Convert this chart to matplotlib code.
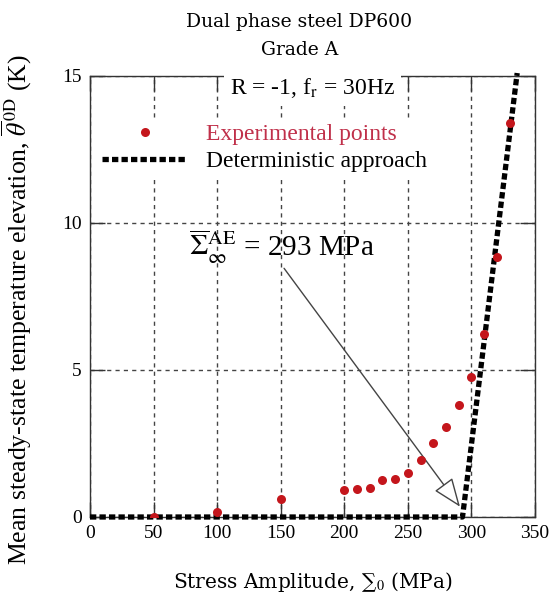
import matplotlib
matplotlib.use("Agg")
import matplotlib.pyplot as plt

plt.rcParams['font.family'] = ['Liberation Serif', 'DejaVu Serif']
plt.rcParams['mathtext.fontset'] = 'stix'

# measured mean temperature elevation vs stress amplitude
stress = [50, 100, 150, 200, 210, 220, 230, 240, 250, 260, 270, 280, 290,
          300, 310, 320, 330]
theta = [0.0, 0.17, 0.61, 0.91, 0.95, 1.0, 1.25, 1.28, 1.51, 1.93, 2.5,
         3.06, 3.8, 4.75, 6.24, 8.83, 13.4]

# deterministic model: zero below the endurance limit, then linear rise
det_stress = [0, 293, 336]
det_theta = [0, 0, 15.1]

xticks = [0, 50, 100, 150, 200, 250, 300, 350]
yticks = [0, 5, 10, 15]

red = '#c4161c'

fig = plt.figure(figsize=(5.5, 6.02), dpi=100)
ax = fig.add_axes([0.1636, 0.1412, 0.8091, 0.7326])

ax.plot(stress, theta, 'o', color=red, ms=6.5, mec='none', zorder=4,
        label='Experimental points')
ax.plot(det_stress, det_theta, color='black', lw=3.8,
        linestyle=(0, (1.2, 0.6)), zorder=3, clip_on=False,
        label='Deterministic approach')

ax.set_xlim(0, 350)
ax.set_ylim(0, 15)
ax.set_xticks(xticks)
ax.set_yticks(yticks)
ax.tick_params(direction='in', length=11, width=1, top=True, right=True,
               labelsize=14, pad=6, color='#333333')
for s in ax.spines.values():
    s.set_linewidth(1)
    s.set_color('#333333')
ax.grid(True, linestyle=(0, (3, 3)), color='#444444', lw=1)
ax.set_axisbelow(True)

leg = ax.legend(loc='upper left', bbox_to_anchor=(-0.01, 0.93), fontsize=17,
                frameon=True, framealpha=1, edgecolor='none',
                handlelength=3.6, handletextpad=0.8, borderpad=0.2,
                labelspacing=0.25, markerscale=1.0)
leg.get_frame().set_facecolor('white')
leg.get_texts()[0].set_color('#c0304a')

ax.text(0.5, 1.0, r'R = -1, f$_{\mathrm{r}}$ = 30Hz', transform=ax.transAxes,
        ha='center', va='top', fontsize=17,
        bbox=dict(facecolor='white', edgecolor='none', pad=4), zorder=5)

ax.annotate(r'$\overline{\Sigma}_{\infty}^{\mathrm{AE}}$ = 293 MPa',
            xy=(291, 0.35), xytext=(78, 9.2), fontsize=21,
            ha='left', va='center',
            arrowprops=dict(arrowstyle='-|>,head_length=0.9,head_width=0.35',
                            mutation_scale=20, fc='white', ec='#444444',
                            lw=1, shrinkA=0, shrinkB=0,
                            relpos=(0.5, 0.0)))

fig.text(0.544, 0.964, 'Dual phase steel DP600', ha='center', va='center',
         fontsize=13.5, family='DejaVu Serif')
fig.text(0.544, 0.917, 'Grade A', ha='center', va='center',
         fontsize=13.5, family='DejaVu Serif')

ax.set_xlabel(r'Stress Amplitude, ∑$_0$ (MPa)', fontsize=14.5,
              family='DejaVu Serif', labelpad=20)
ax.set_ylabel(r'Mean steady-state temperature elevation, $\overline{\theta}^{\,0\mathrm{D}}$ (K)',
              fontsize=18.5)
ax.yaxis.set_label_coords(-0.125, 0.47)

fig.savefig('out.png', dpi=100)
